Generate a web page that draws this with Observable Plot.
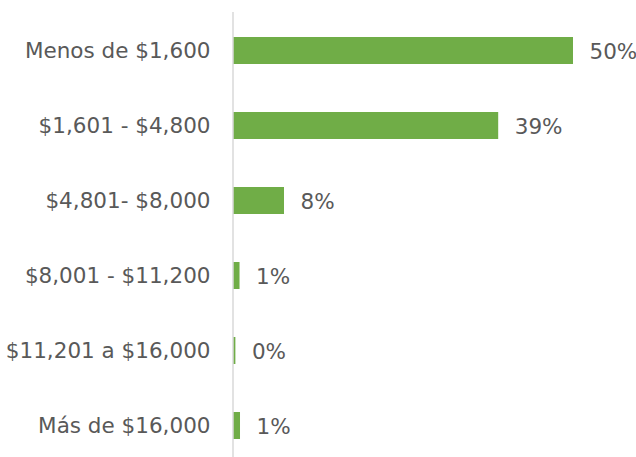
<!DOCTYPE html>
<html>
<head>
<meta charset="utf-8">
<script src="https://cdn.jsdelivr.net/npm/d3@7"></script>
<script src="https://cdn.jsdelivr.net/npm/@observablehq/plot@0.6"></script>
<style>
  html, body { margin: 0; padding: 0; background: #ffffff; }
  #chart svg { display: block; }
</style>
</head>
<body>
<div id="chart"></div>
<script>
const categories = [
  "Menos de $1,600",
  "$1,601 - $4,800",
  "$4,801- $8,000",
  "$8,001 - $11,200",
  "$11,201 a $16,000",
  "Más de $16,000"
];
const values = [50, 39, 7.5, 0.96, 0.35, 1.03];
const valueLabels = ["50%", "39%", "8%", "1%", "0%", "1%"];

const data = categories.map((c, i) => ({category: c, value: values[i], label: valueLabels[i]}));

const textColor = "#595959";
const font = "DejaVu Sans, sans-serif";

const chart = Plot.plot({
  width: 636,
  height: 457,
  marginLeft: 233,
  marginRight: 63,
  marginTop: 12,
  marginBottom: 0,
  style: {fontFamily: font, background: "#ffffff"},
  x: {domain: [0, 50], axis: null},
  y: {
    domain: categories,
    range: [11.75, 464.75],
    paddingInner: 0.642,
    paddingOuter: 0.321,
    axis: null
  },
  marks: [
    Plot.barX(data, {x: "value", y: "category", fill: "#70AD47"}),
    Plot.ruleX([0], {stroke: "#D9D9D9", strokeWidth: 1.5, dx: -0.5}),
    Plot.axisY({
      tickSize: 0,
      tickPadding: 23,
      fontSize: 21.5,
      fill: textColor,
      label: null
    }),
    Plot.text(data, {
      x: "value",
      y: "category",
      text: "label",
      dx: 16,
      dy: 1,
      textAnchor: "start",
      fontSize: 21.5,
      fill: textColor
    })
  ]
});

document.getElementById("chart").appendChild(chart);
</script>
</body>
</html>
